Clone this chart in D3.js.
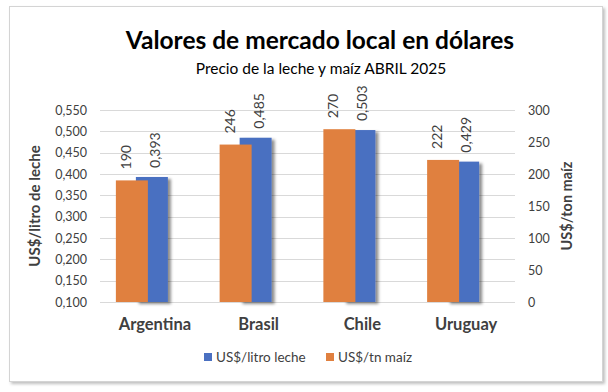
<!DOCTYPE html>
<html>
<head>
<meta charset="utf-8">
<script src="https://cdn.jsdelivr.net/npm/d3@7"></script>
<style>
  body { margin: 0; background: #fff; }
  text { font-family: Lato, "Open Sans", sans-serif; }
</style>
</head>
<body>
<div id="chart"></div>
<script>
// data
var categories = ["Argentina", "Brasil", "Chile", "Uruguay"];
var leche = [0.393, 0.485, 0.503, 0.429];   // US$/litro leche (left axis)
var maiz = [190, 246, 270, 222];            // US$/tn maíz (right axis)
var leftTicks = [0.1, 0.15, 0.2, 0.25, 0.3, 0.35, 0.4, 0.45, 0.5, 0.55];
var rightTicks = [0, 50, 100, 150, 200, 250, 300];
var seriesNames = ["US$/litro leche", "US$/tn maíz"];

var blue = "#4a70c1", orange = "#e0803f";
var grey = "#404040";

var svg = d3.select("#chart").append("svg")
  .attr("width", 608).attr("height", 392);

var defs = svg.append("defs");
var f = defs.append("filter").attr("id", "shadow")
  .attr("x", "-20%").attr("y", "-5%").attr("width", "160%").attr("height", "120%");
f.append("feDropShadow").attr("dx", 3).attr("dy", 2).attr("stdDeviation", 1.6)
  .attr("flood-color", "#000").attr("flood-opacity", 0.45);
var fb = defs.append("filter").attr("id", "frameShadow")
  .attr("x", "-5%").attr("y", "-5%").attr("width", "110%").attr("height", "110%");
fb.append("feDropShadow").attr("dx", 2).attr("dy", 2).attr("stdDeviation", 1.5)
  .attr("flood-color", "#000").attr("flood-opacity", 0.25);

// chart frame
svg.append("rect")
  .attr("x", 9.5).attr("y", 6.5).attr("width", 593).attr("height", 375)
  .attr("fill", "#fff").attr("stroke", "#d4d4d4").attr("stroke-width", 1)
  .attr("filter", "url(#frameShadow)");

var x = d3.scaleBand().domain(categories).range([100, 515]);
var yL = d3.scaleLinear().domain([0.1, 0.55]).range([302, 110]);
var yR = d3.scaleLinear().domain([0, 300]).range([302, 110]);

var loc = d3.formatLocale({ decimal: ",", thousands: ".", grouping: [3], currency: ["$", ""] });
var fmt3 = loc.format(".3f");

// gridlines
svg.append("g").selectAll("line").data(leftTicks).enter().append("line")
  .attr("x1", 100).attr("x2", 515)
  .attr("y1", function (d) { return Math.round(yL(d)) + 0.5; })
  .attr("y2", function (d) { return Math.round(yL(d)) + 0.5; })
  .attr("stroke", "#d9d9d9").attr("stroke-width", 1);

// left axis
var axL = svg.append("g").attr("transform", "translate(100,0)")
  .call(d3.axisLeft(yL).tickValues(leftTicks).tickFormat(fmt3).tickSize(0).tickPadding(13));
axL.select(".domain").remove();
axL.selectAll("text").style("font-size", "12.5px").style("fill", grey);

// right axis
var axR = svg.append("g").attr("transform", "translate(515,0)")
  .call(d3.axisRight(yR).tickValues(rightTicks).tickSize(0).tickPadding(13));
axR.select(".domain").remove();
axR.selectAll("text").style("font-size", "12.5px").style("fill", grey);

var barW = 32;
var cx = function (c) { return x(c) + x.bandwidth() / 2; };

// blue bars (leche) behind
svg.append("g").selectAll("rect").data(categories).enter().append("rect")
  .attr("x", function (d) { return cx(d) - barW / 2; })
  .attr("y", function (d, i) { return yL(leche[i]); })
  .attr("width", barW)
  .attr("height", function (d, i) { return yL(0.1) - yL(leche[i]); })
  .attr("fill", blue).attr("filter", "url(#shadow)");

// orange bars (maíz) in front, shifted left
svg.append("g").selectAll("rect").data(categories).enter().append("rect")
  .attr("x", function (d) { return cx(d) - 20 - barW / 2; })
  .attr("y", function (d, i) { return yR(maiz[i]); })
  .attr("width", barW)
  .attr("height", function (d, i) { return yR(0) - yR(maiz[i]); })
  .attr("fill", orange);

// data labels (rotated)
svg.append("g").selectAll("text").data(categories).enter().append("text")
  .attr("transform", function (d, i) {
    return "translate(" + (cx(d) - 20 - 6 + 5) + "," + (yR(maiz[i]) - 11) + ") rotate(-90)";
  })
  .style("font-size", "14px").style("fill", grey)
  .text(function (d, i) { return maiz[i]; });

svg.append("g").selectAll("text").data(categories).enter().append("text")
  .attr("transform", function (d, i) {
    return "translate(" + (cx(d) + 3 + 5) + "," + (yL(leche[i]) - 9) + ") rotate(-90)";
  })
  .style("font-size", "14px").style("fill", grey)
  .text(function (d, i) { return fmt3(leche[i]); });

// category labels
svg.append("g").selectAll("text").data(categories).enter().append("text")
  .attr("x", function (d) { return cx(d) + 3; }).attr("y", 330)
  .attr("text-anchor", "middle")
  .style("font-size", "16.5px").style("font-weight", "bold").style("fill", grey)
  .text(function (d) { return d; });

// axis titles
svg.append("text")
  .attr("transform", "translate(40,206) rotate(-90)")
  .attr("text-anchor", "middle")
  .style("font-size", "15px").style("font-weight", "bold").style("fill", grey)
  .text("US$/litro de leche");
svg.append("text")
  .attr("transform", "translate(572,206) rotate(-90)")
  .attr("text-anchor", "middle")
  .style("font-size", "14.5px").style("font-weight", "bold").style("fill", grey)
  .text("US$/ton maíz");

// titles
svg.append("text").attr("x", 320).attr("y", 49).attr("text-anchor", "middle")
  .style("font-size", "24.5px").style("font-weight", "bold").style("fill", "#000")
  .text("Valores de mercado local en dólares");
svg.append("text").attr("x", 321).attr("y", 74).attr("text-anchor", "middle")
  .style("font-size", "15.5px").style("fill", "#000")
  .text("Precio de la leche y maíz ABRIL 2025");

// legend
var legendColors = [blue, orange];
var legendX = [204, 326];
var lg = svg.append("g").selectAll("g").data(seriesNames).enter().append("g")
  .attr("transform", function (d, i) { return "translate(" + legendX[i] + ",353)"; });
lg.append("rect").attr("width", 8).attr("height", 8)
  .attr("fill", function (d, i) { return legendColors[i]; });
lg.append("text").attr("x", 12).attr("y", 9)
  .style("font-size", "13.5px").style("fill", grey)
  .text(function (d) { return d; });
</script>
</body>
</html>
